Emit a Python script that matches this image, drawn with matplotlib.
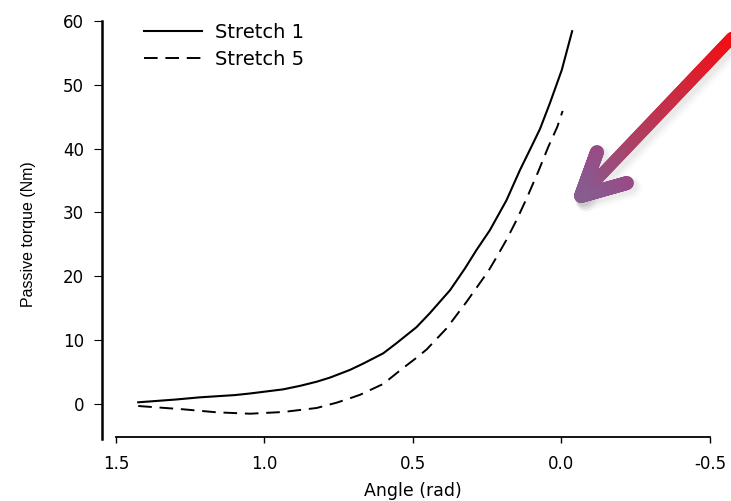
import numpy as np
import matplotlib.pyplot as plt
from matplotlib.collections import LineCollection
from matplotlib.colors import to_rgb

# (angle in rad, torque in Nm)
angle_s1 = [1.425, 1.3, 1.217, 1.1, 1.049, 0.937, 0.88, 0.824, 0.779, 0.712, 0.667,
            0.6, 0.555, 0.488, 0.443, 0.375, 0.325, 0.286, 0.241, 0.185, 0.14, 0.1,
            0.072, 0.039, -0.001, -0.036]
torque_s1 = [0.22, 0.65, 1.0, 1.35, 1.6, 2.25, 2.8, 3.45, 4.1, 5.3, 6.3,
             7.9, 9.5, 12.0, 14.2, 17.8, 21.2, 24.1, 27.2, 31.9, 36.6, 40.4,
             43.1, 47.1, 52.3, 58.4]

angle_s5 = [1.425, 1.273, 1.161, 1.049, 0.937, 0.824, 0.757, 0.712, 0.678, 0.6,
            0.533, 0.488, 0.454, 0.387, 0.319, 0.246, 0.218, 0.185, 0.151, 0.117,
            0.078, 0.044, 0.014, -0.004]
torque_s5 = [-0.36, -0.88, -1.35, -1.57, -1.3, -0.67, 0.16, 0.85, 1.4, 3.1,
             5.6, 7.2, 8.5, 11.8, 16.0, 20.8, 23.0, 25.7, 28.8, 32.2,
             36.4, 40.3, 43.4, 45.9]

series_labels = ['Stretch 1', 'Stretch 5']
x_ticks = [1.5, 1.0, 0.5, 0.0, -0.5]
x_tick_labels = ['1.5', '1.0', '0.5', '0.0', '-0.5']
y_ticks = [0, 10, 20, 30, 40, 50, 60]


def gradient_line(ax, p0, p1, c0, c1, lw, n=80):
    xs = np.linspace(p0[0], p1[0], n + 1)
    ys = np.linspace(p0[1], p1[1], n + 1)
    segs = np.stack([np.column_stack([xs[:-1], ys[:-1]]),
                     np.column_stack([xs[1:], ys[1:]])], axis=1)
    t = np.linspace(0, 1, n)[:, None]
    cols = (1 - t) * np.array(to_rgb(c0)) + t * np.array(to_rgb(c1))
    ax.add_collection(LineCollection(segs, colors=cols, linewidths=lw, capstyle='round'))


fig = plt.figure(figsize=(7.31, 5.01), dpi=100)
ax = fig.add_axes([0.1395, 0.1238, 0.8317, 0.8343])

ax.plot(angle_s1, torque_s1, color='black', lw=1.5, label=series_labels[0])
ax.plot(angle_s5, torque_s5, color='black', lw=1.4, dashes=(7, 4), label=series_labels[1])

ax.set_xlim(1.547, -0.5)
ax.set_ylim(-5.53, 60)
ax.spines['top'].set_visible(False)
ax.spines['right'].set_visible(False)
ax.spines['bottom'].set_position(('data', -5.17))
ax.spines['bottom'].set_bounds(1.5, -0.5)
ax.spines['bottom'].set_linewidth(1.3)
ax.spines['left'].set_linewidth(1.8)

ax.set_xticks(x_ticks, x_tick_labels)
ax.set_yticks(y_ticks)
ax.tick_params(axis='x', direction='out', length=4, width=1, pad=9, labelsize=12)
ax.tick_params(axis='y', direction='out', length=6, width=0.8, pad=7, labelsize=12)

ax.set_xlabel('Angle (rad)', fontsize=12.5)
ax.xaxis.set_label_coords(0.5115, -0.104)
ax.set_ylabel('Passive torque (Nm)', fontsize=11.5, family='Liberation Sans')
ax.yaxis.set_label_coords(-0.108, 0.49)

ax.legend(loc='upper left', bbox_to_anchor=(0.069, 0.995), frameon=False,
          borderpad=0, borderaxespad=0, handlelength=3.0, handletextpad=0.67,
          labelspacing=0.41, fontsize=14)

# arrow overlay in pixel coordinates
ov = fig.add_axes([0, 0, 1, 1], zorder=5)
ov.set_xlim(0, 731)
ov.set_ylim(501, 0)
ov.axis('off')
ov.patch.set_visible(False)

tip = (581, 196)
tail = (745, 24)
arm1 = (597, 152)
arm2 = (627, 183)
for off, lw, a in [(5, 15, 0.035), (4, 13, 0.05), (3, 11, 0.07)]:
    for p in (tail, arm1, arm2):
        ov.plot([p[0] + off, tip[0] + off], [p[1] + off, tip[1] + off],
                color='gray', alpha=a, lw=lw, solid_capstyle='round')

gradient_line(ov, tail, tip, '#ff0505', '#8a5a8e', 8.6)
gradient_line(ov, arm1, tip, '#9a4a86', '#875c8f', 10)
gradient_line(ov, arm2, tip, '#9a4a86', '#875c8f', 10)

fig.savefig('out.png', dpi=100)
